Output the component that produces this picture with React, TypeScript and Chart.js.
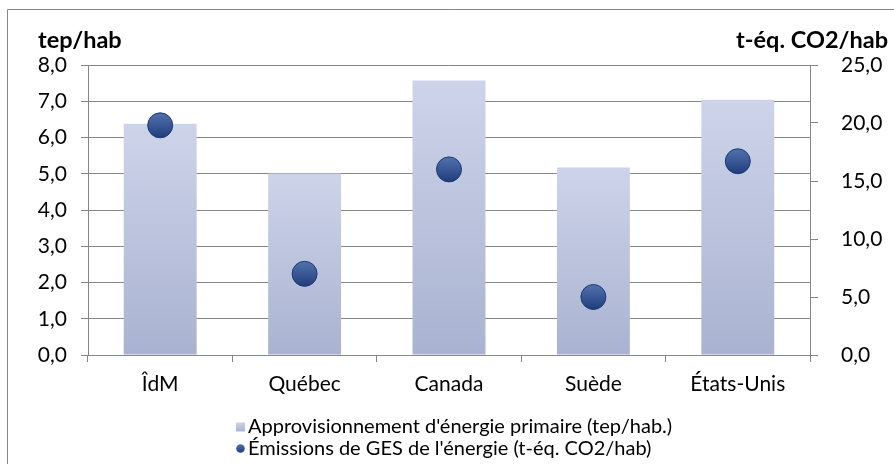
import React, { useEffect, useRef } from "react";
import { Chart, registerables } from "chart.js";

Chart.register(...registerables);

// ---- data ----
const categories = ["ÎdM", "Québec", "Canada", "Suède", "États-Unis"];
const energySupply = [6.38, 5.01, 7.57, 5.17, 7.04]; // tep/hab (left axis)
const ghgEmissions = [19.8, 7.0, 16.0, 5.0, 16.7]; // t-éq. CO2/hab (right axis)
const seriesLabels = [
  "Approvisionnement d'énergie primaire (tep/hab.)",
  "Émissions de GES de l'énergie (t-éq. CO2/hab)",
];
const axisTitles = ["tep/hab", "t-éq. CO2/hab"];
const leftAxis = { min: 0, max: 8, step: 1 };
const rightAxis = { min: 0, max: 25, step: 5 };

// ---- style ----
const FONT = "Lato, 'DejaVu Sans', sans-serif";
const TICK_SIZE = 21;
const LEGEND_SIZE = 20;
const GRID = "#868686";
const BAR_TOP = "#cdd4ea";
const BAR_BOTTOM = "#a9b2d0";
const DOT_TOP = "#5272ae";
const DOT_BOTTOM = "#1f3d7b";
const DOT_BORDER = "#1d3a74";

const fmt = (v: number) => v.toFixed(1).replace(".", ",");

const frameAndTextPlugin = {
  id: "frameAndText",
  beforeDraw(chart: any) {
    const c = chart.ctx;
    c.save();
    c.fillStyle = "#ffffff";
    c.fillRect(0, 0, chart.width, chart.height);
    c.strokeStyle = GRID;
    c.lineWidth = 1;
    c.beginPath();
    c.moveTo(7.5, chart.height + 2);
    c.lineTo(7.5, 9.5);
    c.lineTo(chart.width + 2, 9.5);
    c.stroke();
    c.restore();
  },
  afterDraw(chart: any) {
    const c = chart.ctx;
    c.save();
    // axis titles
    c.fillStyle = "#000";
    c.font = `bold 23.5px ${FONT}`;
    c.textBaseline = "alphabetic";
    c.textAlign = "left";
    c.fillText(axisTitles[0], 38, 48);
    c.textAlign = "right";
    c.fillText(axisTitles[1], 888, 48);

    // legend
    c.font = `${LEGEND_SIZE}px ${FONT}`;
    c.textAlign = "left";
    c.textBaseline = "middle";
    const lx = 236;
    const y1 = 427;
    const y2 = 448.5;
    const g = c.createLinearGradient(0, y1 - 5, 0, y1 + 5);
    g.addColorStop(0, BAR_TOP);
    g.addColorStop(1, BAR_BOTTOM);
    c.fillStyle = g;
    c.fillRect(lx, y1 - 4.5, 9, 9);
    c.fillStyle = "#000";
    c.fillText(seriesLabels[0], lx + 12, y1);
    const g2 = c.createLinearGradient(0, y2 - 4.5, 0, y2 + 4.5);
    g2.addColorStop(0, DOT_TOP);
    g2.addColorStop(1, DOT_BOTTOM);
    c.fillStyle = g2;
    c.beginPath();
    c.arc(lx + 4.5, y2, 4.3, 0, Math.PI * 2);
    c.fill();
    c.fillStyle = "#000";
    c.fillText(seriesLabels[1], lx + 12, y2);
    c.restore();
  },
};

export default function App() {
  const ref = useRef<HTMLCanvasElement | null>(null);

  useEffect(() => {
    if (!ref.current) return;
    const chart = new Chart(ref.current, {
      type: "bar",
      data: {
        labels: categories,
        datasets: [
          {
            type: "bar",
            label: seriesLabels[0],
            data: energySupply,
            yAxisID: "y",
            order: 2,
            categoryPercentage: 1,
            barPercentage: 0.505,
            backgroundColor: (ctx: any) => {
              const chart = ctx.chart;
              const s = chart.scales?.y;
              if (!chart.chartArea || !s || ctx.type !== "data") return BAR_TOP;
              const top = s.getPixelForValue(ctx.raw);
              const bot = s.getPixelForValue(0);
              const g = chart.ctx.createLinearGradient(0, top, 0, bot);
              g.addColorStop(0, BAR_TOP);
              g.addColorStop(1, BAR_BOTTOM);
              return g;
            },
            borderWidth: 0,
          } as any,
          {
            type: "line",
            label: seriesLabels[1],
            data: ghgEmissions,
            yAxisID: "y2",
            order: 1,
            showLine: false,
            pointRadius: 12.5,
            pointBorderWidth: 1,
            pointBorderColor: DOT_BORDER,
            pointBackgroundColor: (ctx: any) => {
              const chart = ctx.chart;
              const s = chart.scales?.y2;
              if (!chart.chartArea || !s || ctx.type !== "data") return DOT_BOTTOM;
              const cy = s.getPixelForValue(ctx.raw);
              const g = chart.ctx.createLinearGradient(0, cy - 12.5, 0, cy + 12.5);
              g.addColorStop(0, DOT_TOP);
              g.addColorStop(1, DOT_BOTTOM);
              return g;
            },
          } as any,
        ],
      },
      options: {
        animation: false,
        responsive: false,
        maintainAspectRatio: false,
        layout: { padding: { top: 65, left: 0, right: 0, bottom: 0 } },
        plugins: {
          legend: { display: false },
          tooltip: { enabled: false },
          title: { display: false },
        },
        scales: {
          x: {
            type: "category",
            offset: true,
            grid: {
              display: true,
              offset: true,
              drawOnChartArea: false,
              drawTicks: true,
              tickLength: 7,
              color: GRID,
            },
            border: { display: true, color: GRID },
            ticks: {
              color: "#000",
              font: { family: FONT, size: TICK_SIZE },
              padding: 10,
              maxRotation: 0,
            },
            afterFit: (s: any) => {
              s.height = 109;
            },
          },
          y: {
            type: "linear",
            position: "left",
            min: leftAxis.min,
            max: leftAxis.max,
            grid: { color: GRID, tickLength: 7 },
            border: { display: true, color: GRID },
            ticks: {
              stepSize: leftAxis.step,
              color: "#000",
              font: { family: FONT, size: TICK_SIZE },
              padding: 14,
              callback: (v: any) => fmt(Number(v)),
            },
            afterFit: (s: any) => {
              s.width = 88;
            },
          },
          y2: {
            type: "linear",
            position: "right",
            min: rightAxis.min,
            max: rightAxis.max,
            grid: { drawOnChartArea: false, color: GRID, tickLength: 8 },
            border: { display: true, color: GRID },
            ticks: {
              stepSize: rightAxis.step,
              color: "#000",
              font: { family: FONT, size: TICK_SIZE },
              padding: 23,
              callback: (v: any) => fmt(Number(v)),
            },
            afterFit: (s: any) => {
              s.width = 84;
            },
          },
        },
      },
      plugins: [frameAndTextPlugin],
    });
    return () => chart.destroy();
  }, []);

  return (
    <canvas
      ref={ref}
      width={894}
      height={464}
      style={{ position: "fixed", left: 0, top: 0, width: 894, height: 464 }}
    />
  );
}
